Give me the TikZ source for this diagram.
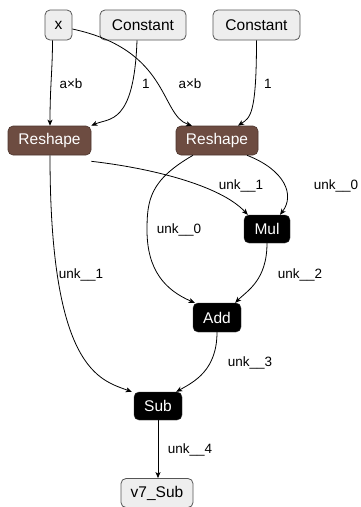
\documentclass[tikz,border=0pt]{standalone}
\usepackage{fontspec}
\setmainfont{Liberation Sans}
\usetikzlibrary{arrows.meta}
\definecolor{iofill}{HTML}{EEEEEE}
\definecolor{ioline}{HTML}{555555}
\definecolor{reshapefill}{HTML}{6D4C41}
\begin{document}
\begin{tikzpicture}[x=1pt,y=-1pt,
  box/.style={rectangle,rounded corners=5pt,inner sep=0pt,font=\fontsize{15.5}{15.5}\selectfont},
  iobox/.style={box,fill=iofill,draw=ioline,line width=0.8pt,text=black},
  rsbox/.style={box,fill=reshapefill,draw=reshapefill!70!black,line width=0.6pt,text=white},
  opbox/.style={box,fill=black,draw=black!80,text=white},
  lbl/.style={inner sep=0pt,font=\fontsize{13.5}{13.5}\selectfont},
  edge/.style={draw=black,line width=0.8pt,-{Stealth[length=6pt,width=5pt,inset=1.5pt]}}]
\useasboundingbox (0,0) rectangle (361,507);

% nodes
\node[iobox,minimum width=27pt,minimum height=30pt] (x) at (58.5,25) {x};
\node[iobox,minimum width=86pt,minimum height=30pt] (c1) at (143,25) {Constant};
\node[iobox,minimum width=87pt,minimum height=30pt] (c2) at (256.5,25) {Constant};
\node[rsbox,minimum width=83pt,minimum height=29pt] (r1) at (49.5,140.5) {Reshape};
\node[rsbox,minimum width=82pt,minimum height=29pt] (r2) at (217,140.5) {Reshape};
\node[opbox,minimum width=46pt,minimum height=28pt] (mul) at (267,229) {Mul};
\node[opbox,minimum width=48pt,minimum height=29pt] (add) at (217,317.5) {Add};
\node[opbox,minimum width=48pt,minimum height=28pt] (sub) at (158,406) {Sub};
\node[iobox,minimum width=72pt,minimum height=29pt] (out) at (157,493) {v7\_Sub};

% connectors
\draw[edge] ([xshift=-6pt]x.south) .. controls +(0,30) and +(0,-40) .. ([xshift=0.5pt]r1.north);
\draw[edge] ([xshift=-6pt]c1.south) .. controls +(-3,85) and +(18,-8) .. (r1.north east);
\draw[edge] ([yshift=-4pt]x.east) .. controls (170,50) and (160,115) .. ([xshift=-25pt]r2.north);
\draw[edge] (c2.south) .. controls +(0,75) and +(12,-8) .. ([xshift=21pt]r2.north);
\draw[edge] ([yshift=-6pt]r1.south east) .. controls (150,168) and (220,185) .. ([xshift=4pt]mul.north west);
\draw[edge] ([xshift=30pt]r2.south) .. controls (285,170) and (295,195) .. ([xshift=13pt]mul.north);
\draw[edge] ([xshift=-24pt]r2.south) .. controls (150,180) and (147,200) .. (147,230)
  .. controls (147,270) and (165,290) .. ([xshift=2pt]add.north west);
\draw[edge] (mul.south) .. controls +(0,37) and +(12,-12) .. ([xshift=-6pt]add.north east);
\draw[edge] ([xshift=0.5pt]r1.south) .. controls (50,370) and (100,380) .. ([xshift=-2pt]sub.north west);
\draw[edge] (add.south) .. controls +(0,38) and +(18,-10) .. ([xshift=-6pt]sub.north east);
\draw[edge] (sub.south) -- (sub.south |- out.north);

% connector labels
\node[lbl] (l1) at (71,84) {a×b};
\node[lbl] (l2) at (146,84) {1};
\node[lbl] (l3) at (190,84) {a×b};
\node[lbl] (l4) at (268,84) {1};
\node[lbl] (l5) at (241,186) {unk\_\_1};
\node[lbl] (l6) at (336,186) {unk\_\_0};
\node[lbl] (l7) at (179,230) {unk\_\_0};
\node[lbl] (l8) at (300,275) {unk\_\_2};
\node[lbl] (l9) at (81,275) {unk\_\_1};
\node[lbl] (l10) at (250,363) {unk\_\_3};
\node[lbl] (l11) at (190,450) {unk\_\_4};
\end{tikzpicture}
\end{document}
